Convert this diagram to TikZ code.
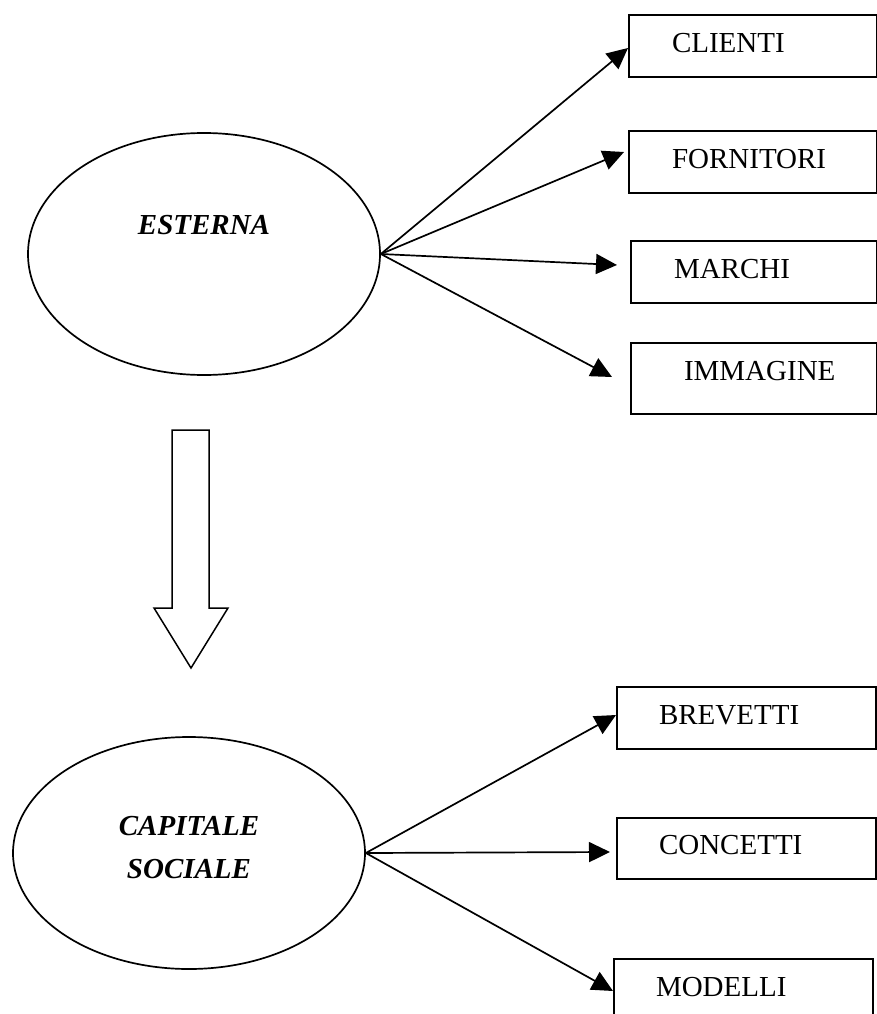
\documentclass[tikz,border=0pt]{standalone}
\usepackage{fontspec}
\setmainfont{Liberation Serif}
\usetikzlibrary{arrows.meta,shapes.geometric,calc}
\begin{document}
\begin{tikzpicture}[x=1pt,y=-1pt,
  oval/.style={draw, ellipse, line width=1.7pt, inner sep=0pt},
  box/.style={draw, line width=2pt, anchor=north west, inner xsep=0pt, inner ysep=0pt,
              align=left, text depth=7pt, minimum height=62pt, font=\fontsize{29}{34}\selectfont},
  conn/.style={line width=1.7pt, -{Triangle[length=21pt,width=20pt]}},
  title/.style={font=\fontsize{29}{43}\selectfont\bfseries\itshape, align=center},
  block/.style={draw, line width=1.5pt, line join=miter, fill=white}]
\useasboundingbox (0,0) rectangle (877,1014);

% upper ellipse
\node[oval, minimum width=352pt, minimum height=242pt] (esterna) at (204,254) {};
\node[title] (esternaT) at (204,225) {ESTERNA};

% upper boxes
\node[box, text width=248pt] (clienti) at (628,14) {\hspace*{43pt}CLIENTI};
\node[box, text width=248pt] (fornitori) at (628,130) {\hspace*{43pt}FORNITORI};
\node[box, text width=246pt] (marchi) at (630,240) {\hspace*{43pt}MARCHI};
\node[box, text width=246pt, minimum height=71pt, text depth=16pt] (immagine) at (630,342) {\hspace*{53pt}IMMAGINE};

\draw[conn] (esterna.east) -- ($(clienti.west)+(0,2)$);
\draw[conn] (esterna.east) -- ($(fornitori.west)+(-4,-10)$);
\draw[conn] (esterna.east) -- ($(marchi.west)+(-13,-7)$);
\draw[conn] (esterna.east) -- ($(immagine.west)+(-18,-1.5)$);

% block arrow
\draw[block] (172,430) -- (209,430) -- (209,608) -- (228,608) -- (191,668)
  -- (154,608) -- (172,608) -- cycle;

% lower ellipse
\node[oval, minimum width=352pt, minimum height=232pt] (capitale) at (189,853) {};
\node[title] (capitaleT) at (189,848) {CAPITALE\\SOCIALE};

% lower boxes
\node[box, text width=259pt] (brevetti) at (616,686) {\hspace*{42pt}BREVETTI};
\node[box, text width=259pt, minimum height=61pt] (concetti) at (616,817) {\hspace*{42pt}CONCETTI};
\node[box, text width=259pt] (modelli) at (613,958) {\hspace*{42pt}MODELLI};

\draw[conn] (capitale.east) -- ($(brevetti.west)+(0,-3)$);
\draw[conn] (capitale.east) -- ($(concetti.west)+(-6,3.5)$);
\draw[conn] (capitale.east) -- ($(modelli.west)+(0,1)$);
\end{tikzpicture}
\end{document}
